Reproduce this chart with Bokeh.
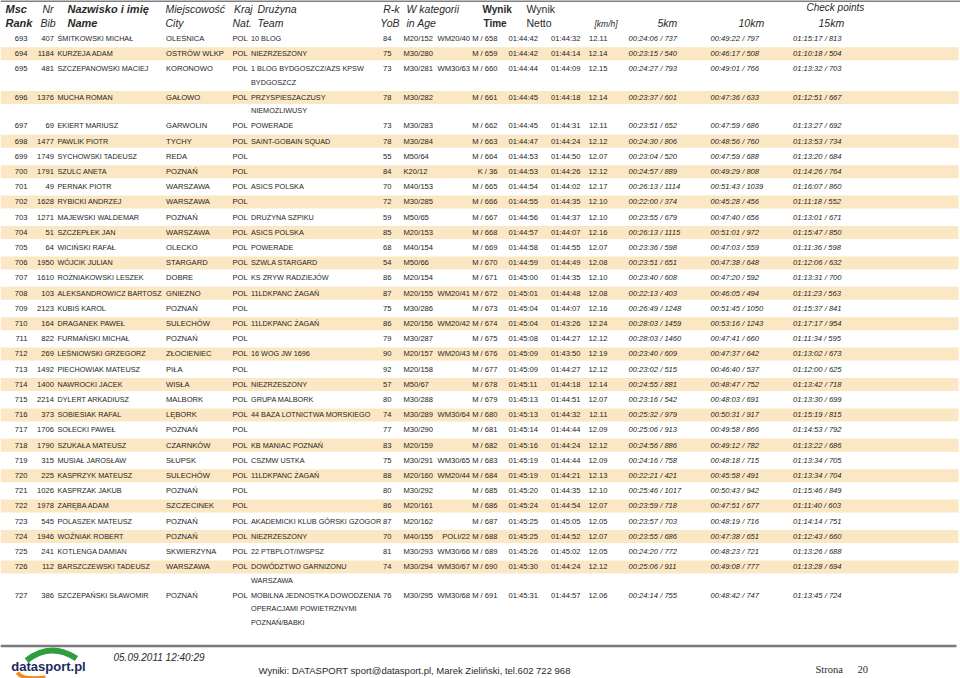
from bokeh.plotting import figure
from bokeh.models import Range1d, ColumnDataSource, GlobalInlineStyleSheet
from bokeh.core.properties import value
from bokeh.embed import file_html
from bokeh.resources import INLINE

# ---------------- data ----------------
rank = [693, 694, 695, 696, 697, 698, 699, 700, 701, 702, 703, 704, 705, 706, 707, 708, 709, 710,
        711, 712, 713, 714, 715, 716, 717, 718, 719, 720, 721, 722, 723, 724, 725, 726, 727]
bib = [407, 1184, 481, 1376, 69, 1477, 1749, 1791, 49, 1628, 1271, 51, 64, 1950, 1610, 103, 2123, 164,
       822, 269, 1492, 1400, 2214, 373, 1706, 1790, 315, 225, 1026, 1978, 545, 1946, 241, 112, 386]
name = ["ŚMITKOWSKI MICHAŁ", "KURZEJA ADAM", "SZCZEPANOWSKI MACIEJ", "MUCHA ROMAN", "EKIERT MARIUSZ",
        "PAWLIK PIOTR", "SYCHOWSKI TADEUSZ", "SZULC ANETA", "PERNAK PIOTR", "RYBICKI ANDRZEJ",
        "MAJEWSKI WALDEMAR", "SZCZEPŁEK JAN", "WICIŃSKI RAFAŁ", "WÓJCIK JULIAN", "ROŻNIAKOWSKI LESZEK",
        "ALEKSANDROWICZ BARTOSZ", "KUBIŚ KAROL", "DRAGANEK PAWEŁ", "FURMAŃSKI MICHAŁ",
        "LEŚNIOWSKI GRZEGORZ", "PIECHOWIAK MATEUSZ", "NAWROCKI JACEK", "DYLERT ARKADIUSZ",
        "SOBIESIAK RAFAL", "SOŁECKI PAWEŁ", "SZUKAŁA MATEUSZ", "MUSIAŁ JAROSŁAW", "KASPRZYK MATEUSZ",
        "KASPRZAK JAKUB", "ZARĘBA ADAM", "POLASZEK MATEUSZ", "WOŹNIAK ROBERT", "KOTLENGA DAMIAN",
        "BARSZCZEWSKI TADEUSZ", "SZCZEPAŃSKI SŁAWOMIR"]
city = ["OLEŚNICA", "OSTRÓW WLKP", "KORONOWO", "GAŁOWO", "GARWOLIN", "TYCHY", "REDA", "POZNAŃ",
        "WARSZAWA", "WARSZAWA", "POZNAŃ", "WARSZAWA", "OLECKO", "STARGARD", "DOBRE", "GNIEZNO",
        "POZNAŃ", "SULECHÓW", "POZNAŃ", "ZŁOCIENIEC", "PIŁA", "WISŁA", "MALBORK", "LĘBORK", "POZNAŃ",
        "CZARNKÓW", "SŁUPSK", "SULECHÓW", "POZNAŃ", "SZCZECINEK", "POZNAŃ", "POZNAŃ", "SKWIERZYNA",
        "WARSZAWA", "POZNAŃ"]
nat = ["POL"] * len(rank)
team = ["10 BLOG", "NIEZRZESZONY", "1 BLOG BYDGOSZCZ/AZS KPSW|BYDGOSZCZ", " PRZYSPIESZACZUSY|NIEMOŻLIWUSY",
        "POWERADE", "SAINT-GOBAIN SQUAD", "", "", "ASICS POLSKA", "", "DRUŻYNA SZPIKU", "ASICS POLSKA",
        "POWERADE", "SZWLA STARGARD", "KS ZRYW RADZIEJÓW", "11LDKPANC ŻAGAŃ", "", "11LDKPANC ŻAGAŃ", "",
        " 16 WOG JW 1696", "", "NIEZRZESZONY", "GRUPA MALBORK", "44 BAZA LOTNICTWA MORSKIEGO", "",
        "KB MANIAC POZNAŃ", "CSZMW USTKA", "11LDKPANC ŻAGAŃ", "", "", "AKADEMICKI KLUB GÓRSKI GZOGOR",
        "NIEZRZESZONY", "22 PTBPLOT/IWSPSZ", "DOWÓDZTWO GARNIZONU|WARSZAWA",
        "MOBILNA JEDNOSTKA DOWODZENIA|OPERACJAMI POWIETRZNYMI|POZNAŃ/BABKI"]
yob = [84, 75, 73, 78, 73, 78, 55, 84, 70, 72, 59, 85, 68, 54, 86, 87, 75, 86, 79, 90, 92, 57, 80, 74,
       77, 83, 75, 88, 80, 86, 87, 70, 81, 74, 76]
cat = ["M20/152", "M30/280", "M30/281", "M30/282", "M30/283", "M30/284", "M50/64", "K20/12", "M40/153",
       "M30/285", "M50/65", "M20/153", "M40/154", "M50/66", "M20/154", "M20/155", "M30/286", "M20/156",
       "M30/287", "M20/157", "M20/158", "M50/67", "M30/288", "M30/289", "M30/290", "M20/159", "M30/291",
       "M20/160", "M30/292", "M20/161", "M20/162", "M40/155", "M30/293", "M30/294", "M30/295"]
wm_cat = ["WM20/40", "", "WM30/63", "", "", "", "", "", "", "", "", "", "", "", "", "WM20/41", "",
          "WM20/42", "", "WM20/43", "", "", "", "WM30/64", "", "", "WM30/65", "WM20/44", "", "", "",
          "POLI/22", "WM30/66", "WM30/67", "WM30/68"]
sex_place = ["M / 658", "M / 659", "M / 660", "M / 661", "M / 662", "M / 663", "M / 664", "K / 36",
             "M / 665", "M / 666", "M / 667", "M / 668", "M / 669", "M / 670", "M / 671", "M / 672",
             "M / 673", "M / 674", "M / 675", "M / 676", "M / 677", "M / 678", "M / 679", "M / 680",
             "M / 681", "M / 682", "M / 683", "M / 684", "M / 685", "M / 686", "M / 687", "M / 688",
             "M / 689", "M / 690", "M / 691"]
time_total = ["01:44:42", "01:44:42", "01:44:44", "01:44:45", "01:44:45", "01:44:47", "01:44:53",
              "01:44:53", "01:44:54", "01:44:55", "01:44:56", "01:44:57", "01:44:58", "01:44:59",
              "01:45:00", "01:45:01", "01:45:04", "01:45:04", "01:45:08", "01:45:09", "01:45:09",
              "01:45:11", "01:45:13", "01:45:13", "01:45:14", "01:45:16", "01:45:19", "01:45:19",
              "01:45:20", "01:45:24", "01:45:25", "01:45:25", "01:45:26", "01:45:30", "01:45:31"]
time_netto = ["01:44:32", "01:44:14", "01:44:09", "01:44:18", "01:44:31", "01:44:24", "01:44:50",
              "01:44:26", "01:44:02", "01:44:35", "01:44:37", "01:44:07", "01:44:55", "01:44:49",
              "01:44:35", "01:44:48", "01:44:07", "01:43:26", "01:44:27", "01:43:50", "01:44:27",
              "01:44:18", "01:44:51", "01:44:32", "01:44:44", "01:44:24", "01:44:44", "01:44:21",
              "01:44:35", "01:44:54", "01:45:05", "01:44:52", "01:45:02", "01:44:24", "01:44:57"]
speed_kmh = ["12.11", "12.14", "12.15", "12.14", "12.11", "12.12", "12.07", "12.12", "12.17", "12.10",
             "12.10", "12.16", "12.07", "12.08", "12.10", "12.08", "12.16", "12.24", "12.12", "12.19",
             "12.12", "12.14", "12.07", "12.11", "12.09", "12.12", "12.09", "12.13", "12.10", "12.07",
             "12.05", "12.07", "12.05", "12.12", "12.06"]
cp_5km = ["00:24:06 / 737", "00:23:15 / 540", "00:24:27 / 793", "00:23:37 / 601", "00:23:51 / 652",
          "00:24:30 / 806", "00:23:04 / 520", "00:24:57 / 889", "00:26:13 / 1114", "00:22:00 / 374",
          "00:23:55 / 679", "00:26:13 / 1115", "00:23:36 / 598", "00:23:51 / 651", "00:23:40 / 608",
          "00:22:13 / 403", "00:26:49 / 1248", "00:28:03 / 1459", "00:28:03 / 1460", "00:23:40 / 609",
          "00:23:02 / 515", "00:24:55 / 881", "00:23:16 / 542", "00:25:32 / 979", "00:25:06 / 913",
          "00:24:56 / 886", "00:24:16 / 758", "00:22:21 / 421", "00:25:46 / 1017", "00:23:59 / 718",
          "00:23:57 / 703", "00:23:55 / 686", "00:24:20 / 772", "00:25:06 / 911", "00:24:14 / 755"]
cp_10km = ["00:49:22 / 797", "00:46:17 / 508", "00:49:01 / 766", "00:47:36 / 633", "00:47:59 / 686",
           "00:48:56 / 760", "00:47:59 / 688", "00:49:29 / 808", "00:51:43 / 1039", "00:45:28 / 456",
           "00:47:40 / 656", "00:51:01 / 972", "00:47:03 / 559", "00:47:38 / 648", "00:47:20 / 592",
           "00:46:05 / 494", "00:51:45 / 1050", "00:53:16 / 1243", "00:47:41 / 660", "00:47:37 / 642",
           "00:46:40 / 537", "00:48:47 / 752", "00:48:03 / 691", "00:50:31 / 917", "00:49:58 / 866",
           "00:49:12 / 782", "00:48:18 / 715", "00:45:58 / 491", "00:50:43 / 942", "00:47:51 / 677",
           "00:48:19 / 716", "00:47:38 / 651", "00:48:23 / 721", "00:49:08 / 777", "00:48:42 / 747"]
cp_15km = ["01:15:17 / 813", "01:10:18 / 504", "01:13:32 / 703", "01:12:51 / 667", "01:13:27 / 692",
           "01:13:53 / 734", "01:13:20 / 684", "01:14:26 / 764", "01:16:07 / 860", "01:11:18 / 552",
           "01:13:01 / 671", "01:15:47 / 850", "01:11:36 / 598", "01:12:06 / 632", "01:13:31 / 700",
           "01:11:23 / 563", "01:15:37 / 841", "01:17:17 / 954", "01:11:34 / 595", "01:13:02 / 673",
           "01:12:00 / 625", "01:13:42 / 718", "01:13:30 / 699", "01:15:19 / 815", "01:14:53 / 792",
           "01:13:22 / 686", "01:13:34 / 705", "01:13:34 / 704", "01:15:46 / 849", "01:11:40 / 603",
           "01:14:14 / 751", "01:12:43 / 660", "01:13:26 / 688", "01:13:28 / 694", "01:13:45 / 724"]

header_row1 = ["Msc", "Nr", "Nazwisko i imię", "Miejscowość", "Kraj", "Drużyna", "R-k", "W kategorii",
               "Wynik", "Wynik", "Check points"]
header_row2 = ["Rank", "Bib", "Name", "City", "Nat.", "Team", "YoB", "in Age", "Time", "Netto",
               "[km/h]", "5km", "10km", "15km"]
footer_date = "05.09.2011 12:40:29"
footer_credit = "Wyniki: DATASPORT sport@datasport.pl, Marek Zieliński, tel.602 722 968"
page_label = "Strona"
page_number = "20"
logo_text = "datasport.pl"

# ---------------- layout ----------------
W, H = 960, 678
FONT = "Liberation Sans"
DSZ = "7.6px"
NSZ = "7.25px"
TXT = "#1e1e1e"
BAND = "#fbe7c3"

p = figure(width=W, height=H, x_range=Range1d(0, W), y_range=Range1d(H, 0),
           output_backend="svg", toolbar_location=None, min_border=0,
           outline_line_color=None, background_fill_color="white", border_fill_color="white")
p.axis.visible = False
p.grid.visible = False
p.stylesheets = [GlobalInlineStyleSheet(css="html,body{margin:0;padding:0;overflow:hidden;}")]

Y0, PITCH, EXTRA = 37.8, 15.2, 13.4
row_y = []
y = Y0
for t in team:
    row_y.append(y)
    y += PITCH + (len(t.split("|")) - 1) * EXTRA

# bands on every second row
band_y = [row_y[i] for i, r in enumerate(rank) if r % 2 == 0]
p.quad(left=0, right=958, top=[v - 6.3 for v in band_y], bottom=[v + 6.7 for v in band_y],
       fill_color=BAND, line_color=None)


def put(xs, ys, texts, align="left", size=DSZ, style="normal", color=TXT, font=FONT):
    src = ColumnDataSource(dict(x=xs, y=ys, t=texts))
    p.text(x="x", y="y", text="t", source=src, text_align=align, text_baseline="middle",
           text_font_size=size, text_font_style=style, text_color=color, text_font=value(font))


def column(x, values, align="left", style="normal", size=DSZ):
    n = len(values)
    put([x] * n, row_y, [str(v) for v in values], align=align, style=style, size=size)


column(27, rank, "right")
column(53.5, bib, "right")
column(57, name, size=NSZ)
column(165.5, city)
column(232, nat)
column(391, yob, "right")
column(403, cat)
column(497, [(w + " " if w else "") + s for w, s in zip(wm_cat, sex_place)], "right")
column(508, time_total)
column(550.5, time_netto)
column(607, speed_kmh, "right")
column(628, cp_5km, style="italic")
column(710, cp_10km, style="italic")
column(792.5, cp_15km, style="italic")

# team column, wrapped lines
tx, ty, tt = [], [], []
for yy, t in zip(row_y, team):
    for k, part in enumerate(t.split("|")):
        if part:
            tx.append(250.5)
            ty.append(yy + k * EXTRA)
            tt.append(part)
put(tx, ty, tt, size=NSZ)

# header
HC = "#2a2a2a"
h1y, h2y = 8.5, 22.5
HS = "10.5px"
hdr = [  # (text, x, y, align, style, size)
    (header_row1[0], 5, h1y, "left", "bold italic", "11px"),
    (header_row2[0], 5, h2y, "left", "bold italic", "11px"),
    (header_row1[1], 47.5, h1y, "center", "italic", HS),
    (header_row2[1], 47.5, h2y, "center", "italic", HS),
    (header_row1[2], 67, h1y, "left", "bold italic", "11px"),
    (header_row2[2], 67, h2y, "left", "bold italic", "11px"),
    (header_row1[3], 165, h1y, "left", "italic", HS),
    (header_row2[3], 165, h2y, "left", "italic", HS),
    (header_row1[4], 233.5, h1y, "left", "italic", HS),
    (header_row2[4], 232, h2y, "left", "italic", HS),
    (header_row1[5], 257, h1y, "left", "italic", HS),
    (header_row2[5], 257, h2y, "left", "italic", HS),
    (header_row1[6], 399, h1y, "right", "italic", HS),
    (header_row2[6], 399, h2y, "right", "italic", HS),
    (header_row1[7], 406, h1y, "left", "italic", HS),
    (header_row2[7], 406, h2y, "left", "italic", HS),
    (header_row1[8], 482, h1y, "left", "bold", "10px"),
    (header_row2[8], 483, h2y, "left", "bold", "10px"),
    (header_row1[9], 526, h1y, "left", "normal", HS),
    (header_row2[9], 526, h2y, "left", "normal", HS),
    (header_row2[10], 594, h2y + 0.5, "left", "italic", "8.5px"),
    (header_row1[10], 806, 6.5, "left", "italic", "10px"),
    (header_row2[11], 657, h2y, "left", "italic", HS),
    (header_row2[12], 738, h2y, "left", "italic", HS),
    (header_row2[13], 818, h2y, "left", "italic", HS),
]
for t, x, yy, al, st, sz in hdr:
    put([x], [yy], [t], align=al, style=st, size=sz, color=HC)

# top rule and footer
p.segment(x0=[0], y0=[0.5], x1=[960], y1=[0.5], line_color="#555555", line_width=1.5)
p.segment(x0=[0], y0=[645.5], x1=[956], y1=[645.5], line_color="#7a7a7a", line_width=2.5)
put([113], [656.5], [footer_date], style="italic", size="10px", color=HC)
put([258], [670], [footer_credit], size="9.5px", color=HC)
put([815], [668.5], [page_label], size="10.5px", color=HC, font="Liberation Serif")
put([857], [668.5], [page_number], size="10.5px", color=HC, font="Liberation Serif")

# logo
p.quadratic(x0=[26], y0=[660], x1=[76], y1=[658], cx=[50], cy=[641], line_color="#2e9e3e", line_width=6)
put([48], [666], [logo_text], align="center", style="bold", size="13px", color="#1b2a5c")
p.quadratic(x0=[17], y0=[672], x1=[45], y1=[677], cx=[22], cy=[680], line_color="#f08a1c", line_width=4)

open("out.html", "w").write(file_html(p, INLINE))
